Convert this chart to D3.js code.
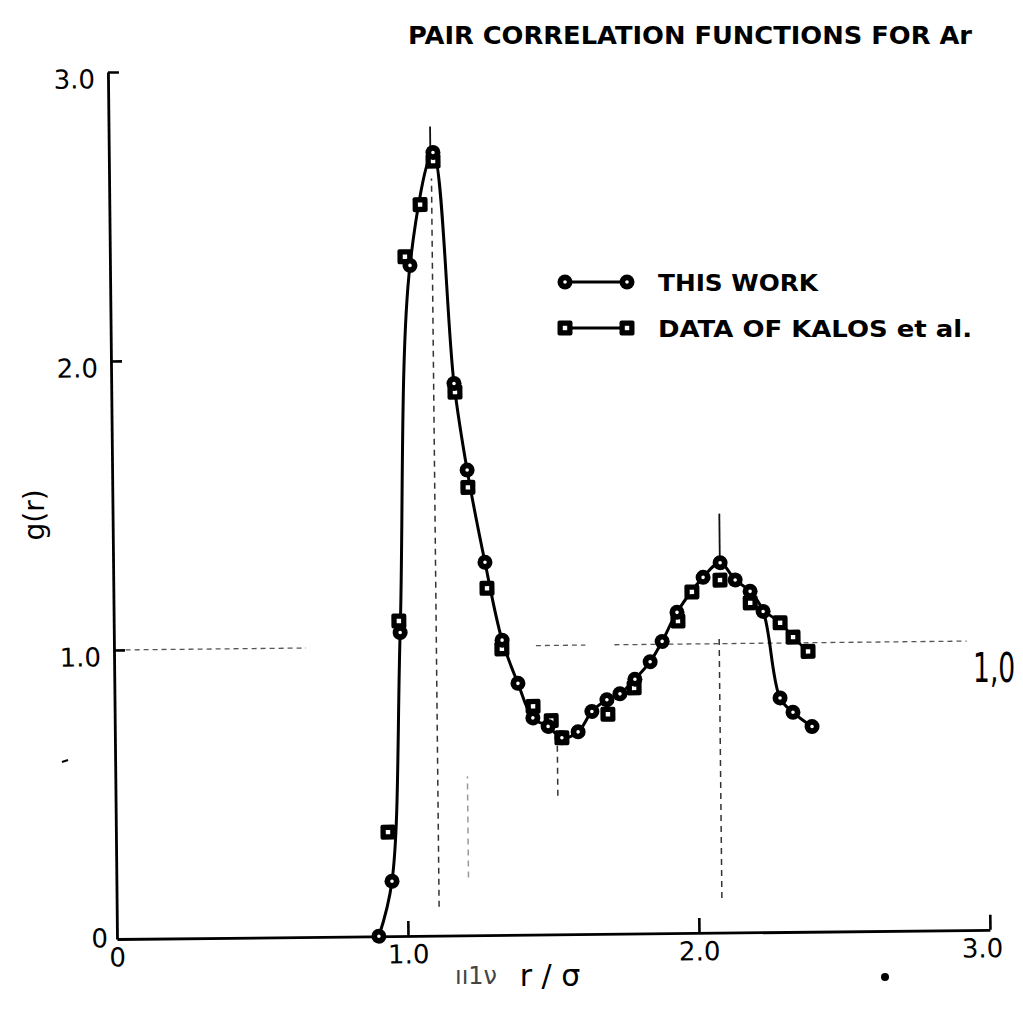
<!DOCTYPE html>
<html><head><meta charset="utf-8">
<script src="https://cdn.jsdelivr.net/npm/d3@7/dist/d3.min.js"></script>
<style>body{margin:0;background:#fff}svg{display:block}</style>
</head><body>
<svg id="chart" width="1023" height="1020"></svg>
<script>
// ---- data ----
const thisWorkR = [0.900, 0.947, 0.984, 1.031, 1.114, 1.178, 1.220, 1.278, 1.334, 1.387, 1.437, 1.489, 1.536, 1.592, 1.640, 1.692, 1.737, 1.789, 1.842, 1.884, 1.936, 2.027, 2.086, 2.137, 2.188, 2.232, 2.287, 2.331, 2.396];
const thisWorkG = [0.00, 0.19, 1.05, 2.32, 2.71, 1.91, 1.61, 1.29, 1.02, 0.87, 0.75, 0.72, 0.68, 0.70, 0.77, 0.81, 0.83, 0.88, 0.94, 1.01, 1.11, 1.23, 1.28, 1.22, 1.18, 1.11, 0.81, 0.76, 0.71];
const kalosR = [0.935, 0.980, 1.014, 1.068, 1.114, 1.181, 1.222, 1.284, 1.333, 1.438, 1.500, 1.536, 1.695, 1.786, 1.939, 1.988, 2.085, 2.188, 2.290, 2.334, 2.385];
const kalosG = [0.36, 1.09, 2.35, 2.53, 2.68, 1.88, 1.55, 1.20, 0.99, 0.79, 0.74, 0.68, 0.76, 0.85, 1.08, 1.18, 1.22, 1.14, 1.07, 1.02, 0.97];
const kalosTailFrom = 2.18; // the Kalos curve is drawn separately only where it leaves the main curve
const xTicks = [0, 1, 2, 3];
const xTickLabels = ["0", "1.0", "2.0", "3.0"];
const yTicks = [0, 1, 2, 3];
const yTickLabels = ["0", "1.0", "2.0", "3.0"];
const titleText = "PAIR CORRELATION FUNCTIONS FOR Ar";
const legendLabels = ["THIS WORK", "DATA OF KALOS et al."];
const xLabel = "r / σ";
const xScribble = "ıı1ν";
const yLabel = "g(r)";
const sideNote = "1,0";
// guide lines (r, g0, g1)
const vGuides = [[1.108, 0.10, 2.62], [1.52, 0.48, 0.66], [2.08, 0.12, 1.02], [1.21, 0.20, 0.55]];
const vSolid = [[1.105, 2.72, 2.80], [2.085, 1.29, 1.45]];
const hGuideSegments = [[0.04, 0.66], [1.45, 1.62], [1.72, 2.93]];

// ---- layout ----
const svg = d3.select("#chart");
const font = "'DejaVu Sans', 'Liberation Sans', sans-serif";
const x = d3.scaleLinear().domain([0, 3]).range([0, 873]);
const y = d3.scaleLinear().domain([0, 3]).range([0, -867]);

const g = svg.append("g").attr("transform", "translate(117,939) rotate(-0.6)");

// guide lines
g.selectAll(".hg").data(hGuideSegments).join("line")
  .attr("x1", d => x(d[0])).attr("x2", d => x(d[1]))
  .attr("y1", y(1)).attr("y2", y(1))
  .attr("stroke", "#555").attr("stroke-width", 1.3).attr("stroke-dasharray", "5,4");
g.selectAll(".vg").data(vGuides).join("line")
  .attr("x1", d => x(d[0])).attr("x2", d => x(d[0]))
  .attr("y1", d => y(d[1])).attr("y2", d => y(d[2]))
  .attr("stroke", (d, i) => i === 3 ? "#999" : "#333").attr("stroke-width", 1.5).attr("stroke-dasharray", "6,5");
g.selectAll(".vs").data(vSolid).join("line")
  .attr("x1", d => x(d[0])).attr("x2", d => x(d[0]))
  .attr("y1", d => y(d[1])).attr("y2", d => y(d[2]))
  .attr("stroke", "#111").attr("stroke-width", 1.8);

// axes
const xAxis = d3.axisBottom(x).tickValues(xTicks).tickSizeInner(-15).tickSizeOuter(0).tickPadding(9)
  .tickFormat((d, i) => xTickLabels[i]);
const xa = g.append("g").call(xAxis);
xa.select(".domain").attr("stroke", "#000").attr("stroke-width", 2.8);
xa.selectAll(".tick line").attr("stroke", "#000").attr("stroke-width", 2.6);
xa.selectAll(".tick").filter(d => d === 0).select("line").remove();
xa.selectAll("text").attr("font-family", font).attr("font-size", 26).attr("fill", "#000");
xa.selectAll(".tick").filter(d => d === 3).select("text").attr("dx", -8);

const yAxis = d3.axisLeft(y).tickValues(yTicks).tickSizeInner(-11).tickSizeOuter(0).tickPadding(13)
  .tickFormat((d, i) => yTickLabels[i]);
const ya = g.append("g").call(yAxis);
ya.select(".domain").attr("stroke", "#000").attr("stroke-width", 2.8);
ya.selectAll(".tick line").attr("stroke", "#000").attr("stroke-width", 2.6);
ya.selectAll(".tick").filter(d => d === 0).select("line").remove();
ya.selectAll("text").attr("font-family", font).attr("font-size", 26).attr("fill", "#000").attr("dy", "0.6em");
ya.selectAll(".tick").filter(d => d === 0).select("text").attr("dy", "0.3em").attr("x", -9);

// curves
const line = d3.line().x(d => x(d[0])).y(d => y(d[1])).curve(d3.curveCatmullRom.alpha(0.5));
const twData = thisWorkR.map((r, i) => [r, thisWorkG[i]]);
const kData = kalosR.map((r, i) => [r, kalosG[i]]);
g.append("path").attr("d", line(kData.filter(d => d[0] >= kalosTailFrom)))
  .attr("fill", "none").attr("stroke", "#000").attr("stroke-width", 2.8);
g.append("path").attr("d", line(twData)).attr("fill", "none").attr("stroke", "#000").attr("stroke-width", 3);

// markers
function squareMarker(sel) {
  sel.append("rect").attr("x", -7.5).attr("y", -7.5).attr("width", 15).attr("height", 15).attr("rx", 2).attr("fill", "#000");
  sel.append("rect").attr("x", -2.2).attr("y", -2.2).attr("width", 4.4).attr("height", 4.4).attr("fill", "#fff");
}
function circleMarker(sel) {
  sel.append("circle").attr("r", 7.5).attr("fill", "#000");
  sel.append("circle").attr("r", 1.8).attr("fill", "#fff");
}
g.selectAll(".km").data(kData).join("g").attr("class", "km")
  .attr("transform", d => `translate(${x(d[0])},${y(d[1])})`).call(squareMarker);
g.selectAll(".tm").data(twData).join("g").attr("class", "tm")
  .attr("transform", d => `translate(${x(d[0])},${y(d[1])})`).call(circleMarker);

// title
svg.append("text").attr("x", 408).attr("y", 44).attr("font-family", font).attr("font-weight", "bold")
  .attr("font-size", 24).attr("textLength", 564).attr("lengthAdjust", "spacingAndGlyphs").text(titleText);

// legend
const leg = svg.append("g");
[282, 328].forEach((ly, i) => {
  leg.append("line").attr("x1", 565).attr("x2", 627).attr("y1", ly).attr("y2", ly).attr("stroke", "#000").attr("stroke-width", 2.8);
  const a = leg.append("g").attr("transform", `translate(565,${ly})`);
  const b = leg.append("g").attr("transform", `translate(627,${ly})`);
  if (i === 0) { circleMarker(a); circleMarker(b); } else { squareMarker(a); squareMarker(b); }
  leg.append("text").attr("x", 658).attr("y", ly + 9).attr("font-family", font).attr("font-weight", "bold")
    .attr("font-size", 23).attr("textLength", i === 0 ? 160 : 314).attr("lengthAdjust", "spacingAndGlyphs")
    .text(legendLabels[i]);
});

// axis titles
svg.append("text").attr("transform", "translate(44,515) rotate(-90)").attr("text-anchor", "middle")
  .attr("font-family", font).attr("font-size", 28).text(yLabel);
svg.append("text").attr("x", 550).attr("y", 986).attr("text-anchor", "middle")
  .attr("font-family", font).attr("font-size", 30).text(xLabel);
svg.append("text").attr("x", 455).attr("y", 984).attr("font-family", font).attr("font-size", 24)
  .attr("fill", "#444").text(xScribble);

// handwritten note at right
svg.append("text").attr("transform", "translate(973,682) scale(0.95,1.45)")
  .attr("font-family", font).attr("font-size", 28).text(sideNote);

// scan specks
svg.append("circle").attr("cx", 885).attr("cy", 977).attr("r", 4).attr("fill", "#000");
svg.append("line").attr("x1", 62).attr("x2", 68).attr("y1", 762).attr("y2", 760).attr("stroke", "#000").attr("stroke-width", 2);
</script>
</body></html>
